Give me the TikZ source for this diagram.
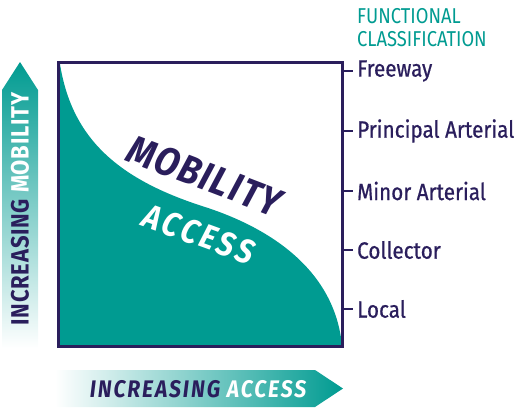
\documentclass[tikz,border=0pt]{standalone}
\usepackage{fontspec}
\setmainfont{Fira Sans}[FakeStretch=0.88]
\usepackage{xcolor}
\definecolor{roadteal}{RGB}{0,155,145}
\definecolor{roadnavy}{RGB}{42,30,92}
\usetikzlibrary{positioning}
\tikzset{
	classlabel/.style={anchor=west, inner sep=0pt, text=roadnavy, font=\fontsize{23.5}{24}\selectfont\addfontfeatures{FakeBold=0.7}},
	tickline/.style={roadnavy, line width=2pt},
}

\begin{document}
\begin{tikzpicture}[x=1pt, y=-1pt]
		\useasboundingbox (0,0) rectangle (516,408);
		% arrows at the axes
		\shade[top color=roadteal, bottom color=white] (2,348) -- (2,90) -- (20,62) -- (38,90) -- (38,348) -- cycle;
		\shade[left color=white, right color=roadteal] (55,370) -- (315,370) -- (343,388.5) -- (315,407) -- (55,407) -- cycle;
		\node[rotate=90, inner sep=0pt, font=\bfseries\fontsize{25}{26}\selectfont\addfontfeatures{LetterSpace=3}] (mob) at (20,209) {\color{roadnavy}INCREASING \color{white}MOBILITY};
		\node[inner sep=0pt, font=\bfseries\itshape\fontsize{24}{26}\selectfont\addfontfeatures{LetterSpace=8}] (acc) at (198,389) {\color{roadnavy}INCREASING \color{white}ACCESS};
		% area under the curve
		\fill[roadteal] (60,64) .. controls (72,140) and (120,180) .. (205,207)
			.. controls (270,228) and (335,270) .. (342,346) -- (59,346) -- cycle;
		\draw[roadnavy, line width=3pt] (58.5,62.5) rectangle (342.5,346.5);
		\node[rotate=-21, inner sep=0pt, text=roadnavy, font=\bfseries\itshape\fontsize{40}{40}\selectfont\addfontfeatures{LetterSpace=4}] (mobility) at (205,176) {MOBILITY};
		\node[rotate=-20, inner sep=0pt, text=white, font=\bfseries\itshape\fontsize{34}{34}\selectfont\addfontfeatures{LetterSpace=10}] (access) at (199,234) {ACCESS};
		% classification scale
		\node[anchor=north west, inner sep=0pt, align=left, text=roadteal, font=\fontsize{21.5}{23}\selectfont] (fc) at (357,8) {\scalebox{0.97}[1]{FUNCTIONAL}\\\scalebox{0.97}[1]{CLASSIFICATION}};
		\foreach \y/\name/\txt in {71/fwy/Freeway, 131/part/Principal Arterial, 191/mart/Minor Arterial, 250/coll/Collector, 309/loc/Local} {
			\coordinate (\name-a) at (343,\y);
			\coordinate (\name-b) at (353,\y);
			\node[classlabel] (\name) at (357,\y) {\txt};
			\draw[tickline] (\name-a) -- (\name-b);
		}
	\end{tikzpicture}
\end{document}
